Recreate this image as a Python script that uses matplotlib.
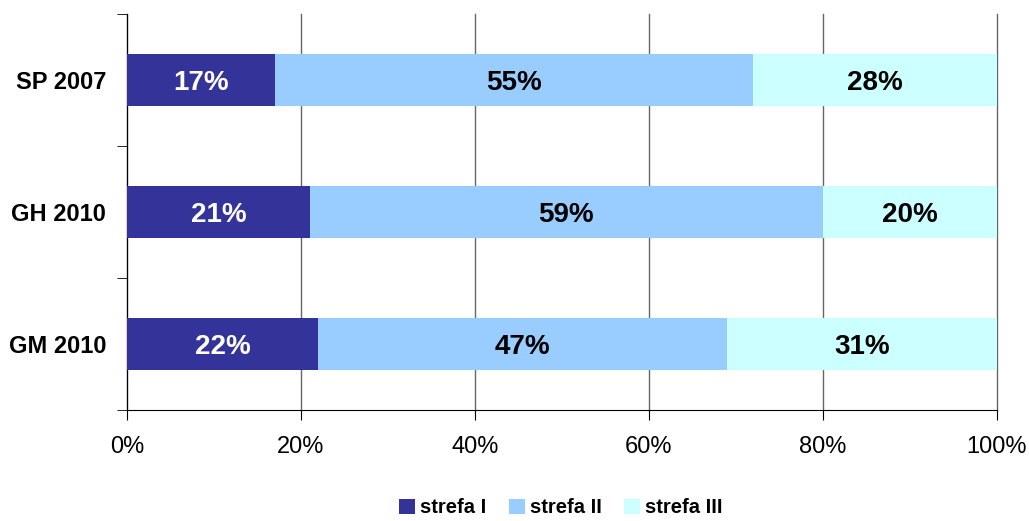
import matplotlib
matplotlib.use("Agg")
from matplotlib import pyplot as plt
from matplotlib.ticker import PercentFormatter

plt.rcParams['font.family'] = ['Liberation Sans', 'DejaVu Sans']

categories = ["SP 2007", "GH 2010", "GM 2010"]
series_names = ["strefa I", "strefa II", "strefa III"]
strefa_1 = [17, 21, 22]
strefa_2 = [55, 59, 47]
strefa_3 = [28, 20, 31]
colors = ["#333399", "#99CCFF", "#CCFFFF"]
text_colors = ["white", "black", "black"]

fig = plt.figure(figsize=(10.29, 5.21), dpi=100)
ax = fig.add_axes([0.1234, 0.2131, 0.8455, 0.76])

ypos = list(range(len(categories)))
left = [0] * len(categories)
for name, vals, col, tcol in zip(series_names, [strefa_1, strefa_2, strefa_3], colors, text_colors):
    bars = ax.barh(ypos, vals, left=left, height=0.4, color=col, label=name, zorder=3)
    for b, v, l in zip(bars, vals, left):
        ax.text(l + v / 2, b.get_y() + b.get_height() / 2, f"{v}%", ha='center', va='center_baseline',
                color=tcol, fontsize=20, fontweight='bold', zorder=4)
    left = [a + b for a, b in zip(left, vals)]

ax.set_xlim(0, 100)
ax.set_ylim(2.5, -0.5)
ax.xaxis.set_major_formatter(PercentFormatter(decimals=0))
ax.set_xticks(range(0, 101, 20))
ax.set_yticks(ypos)
ax.set_yticklabels(categories, fontsize=17, fontweight='bold')
ax.set_yticks([-0.5, 0.5, 1.5, 2.5], minor=True)
ax.tick_params(axis='y', which='major', length=0, pad=15)
ax.tick_params(axis='y', which='minor', length=7, direction='out')
ax.tick_params(axis='x', labelsize=17, length=7, direction='out', pad=12)
ax.grid(axis='x', color='#666666', linewidth=1, zorder=0)
for gl in ax.get_xgridlines():
    gl.set_clip_on(False)
for s in ['top', 'right']:
    ax.spines[s].set_visible(False)

fig.legend(loc='lower center', ncol=3, frameon=False, bbox_to_anchor=(0.545, -0.028),
           prop={'weight': 'bold', 'size': 14.5}, handlelength=0.8, handleheight=0.8,
           handletextpad=0.25, columnspacing=1.1)

fig.savefig("out.png", dpi=100)
